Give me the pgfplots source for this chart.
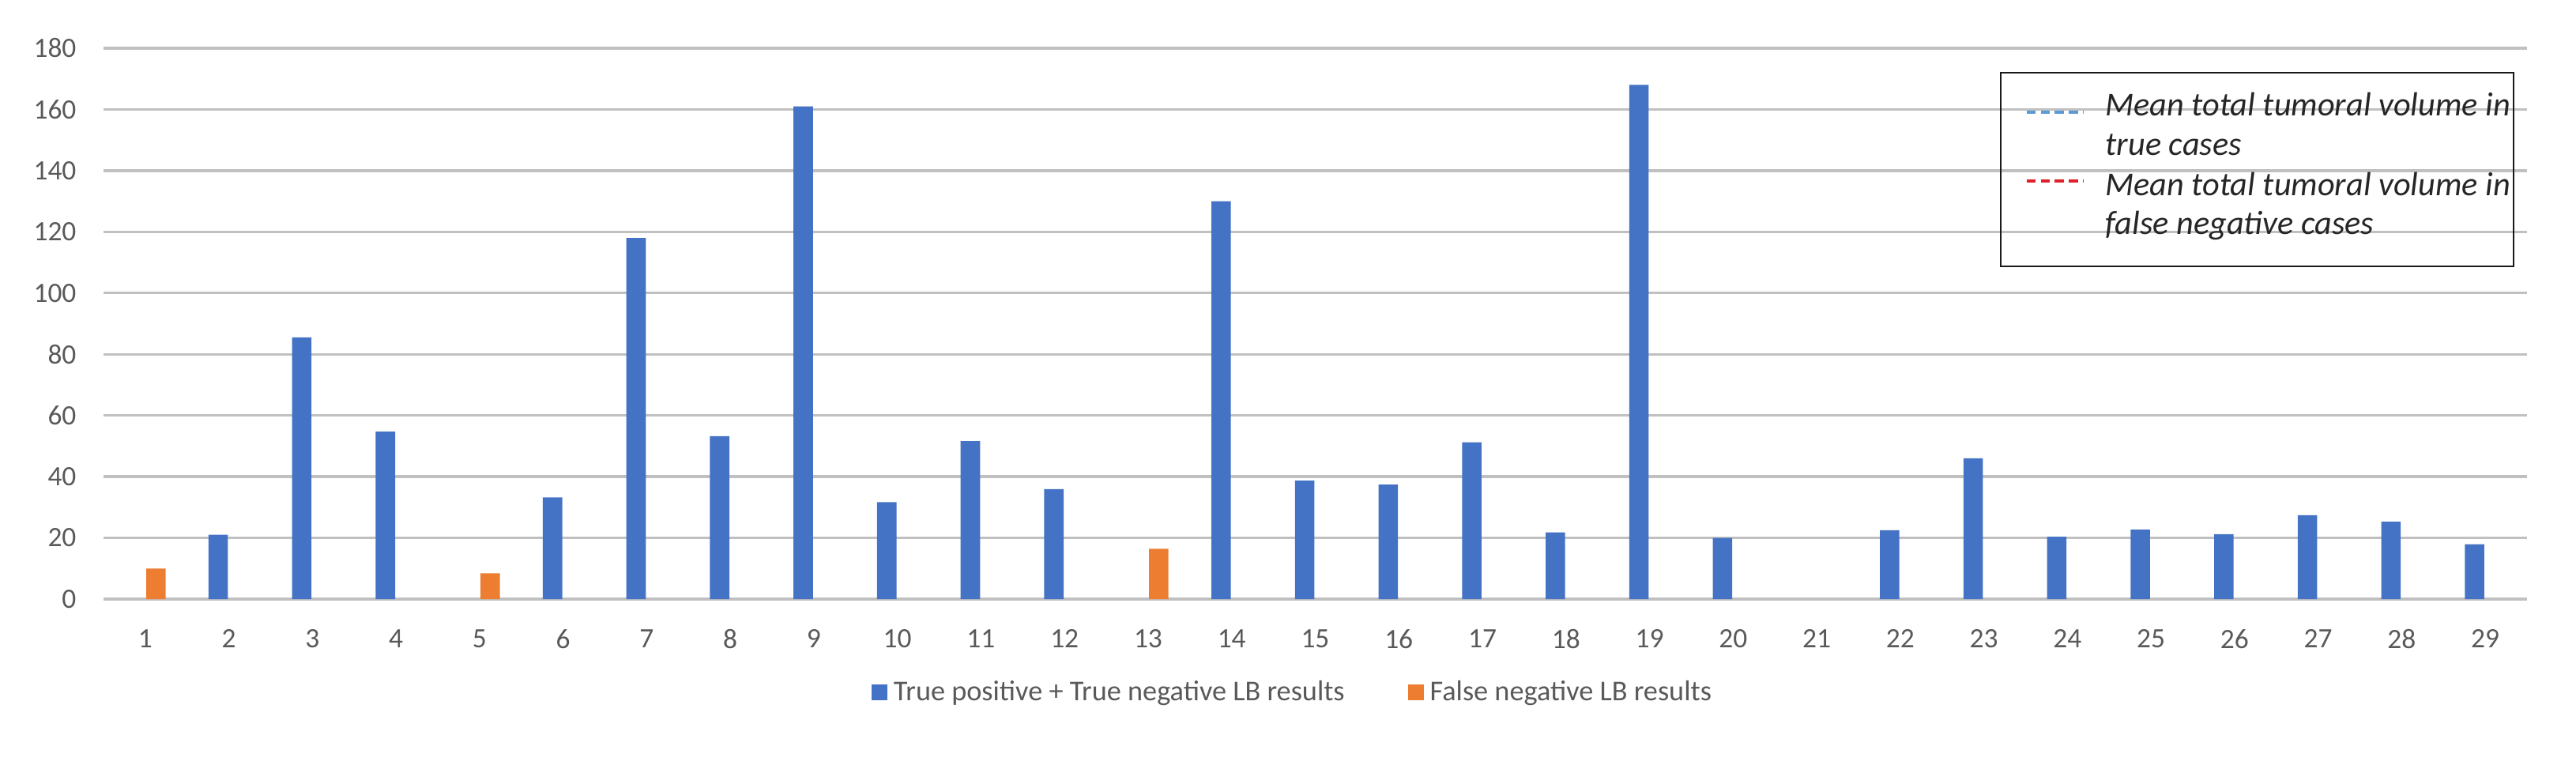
\documentclass[border=0pt]{standalone}
\usepackage{fontspec}
\setmainfont{Carlito}
\usepackage{pgfplots}
\pgfplotsset{compat=1.18}
\definecolor{barblue}{HTML}{4472C4}
\definecolor{barorange}{HTML}{ED7D31}
\definecolor{gridgray}{HTML}{C0C0C0}
\definecolor{ticktext}{HTML}{595959}
\definecolor{meanblue}{HTML}{5B9BD5}
\definecolor{meanred}{HTML}{E0202A}
\begin{document}
\begin{tikzpicture}
\useasboundingbox (-45.85pt,-74.9pt) rectangle (1095.15pt,265.3pt);
\begin{axis}[
 at={(0,0)}, anchor=south west,
 scale only axis, width=1073.45pt, height=243.95pt,
 xmin=0.5, xmax=29.5, ymin=0, ymax=180,
 xtick={1,...,29}, ytick={0,20,...,180},
 ymajorgrids, grid style={gridgray, line width=1.2pt},
 axis line style={draw=none},
 major tick length=0pt,
 tick label style={font=\fontsize{12.4}{14}\selectfont, text=ticktext},
 /pgf/number format/assume math mode=true,
 yticklabel style={anchor=east, inner sep=0pt, xshift=-11.9pt},
 xticklabel style={anchor=north, inner sep=0pt, yshift=-13.3pt},
 ybar, bar width=8.6pt,
 legend image code/.code={\fill[#1] (0pt,-3.6pt) rectangle (7pt,3.6pt);},
 legend style={at={(0.4902,-0.1693)}, anchor=center, draw=none, fill=none,
   font=\fontsize{12.7}{14}\selectfont, text=ticktext, legend columns=2,
   nodes={inner sep=0pt},
   /tikz/every odd column/.append style={column sep=2.8pt},
   /tikz/every even column/.append style={column sep=28pt}},
 clip=false
]
\addplot[fill=barblue, draw=none, bar shift=-4.7pt] coordinates {
 (2,21) (3,85.5) (4,54.7) (6,33.2) (7,118) (8,53.2) (9,161) (10,31.7)
 (11,51.6) (12,35.9) (14,130) (15,38.7) (16,37.4) (17,51.2) (18,21.8)
 (19,168) (20,20) (22,22.5) (23,46) (24,20.4) (25,22.7) (26,21.2)
 (27,27.4) (28,25.3) (29,17.9)};
\addlegendentry{True positive + True negative LB results}
\addplot[fill=barorange, draw=none, bar shift=4.7pt] coordinates {
 (1,10) (5,8.4) (13,16.4)};
\addlegendentry{False negative LB results}
\end{axis}
\draw[line width=0.8pt, black!90] (840.35pt,147.35pt) rectangle (1067.5pt,233.1pt);
\draw[meanblue, line width=1.2pt, dash pattern=on 4pt off 2.2pt] (851.9pt,215.6pt) -- (876.75pt,215.6pt);
\draw[meanred, line width=1.2pt, dash pattern=on 4pt off 2.2pt] (851.9pt,185.15pt) -- (876.75pt,185.15pt);
\begin{scope}[every node/.style={anchor=base west, inner sep=0pt, font=\fontsize{14.8}{17}\selectfont\itshape, text=black!85}]
\node at (886.55pt,213.85pt) {Mean total tumoral volume in};
\node at (886.55pt,196.35pt) {true cases};
\node at (886.55pt,178.5pt) {Mean total tumoral volume in};
\node at (886.55pt,161.35pt) {false negative cases};
\end{scope}
\end{tikzpicture}
\end{document}
